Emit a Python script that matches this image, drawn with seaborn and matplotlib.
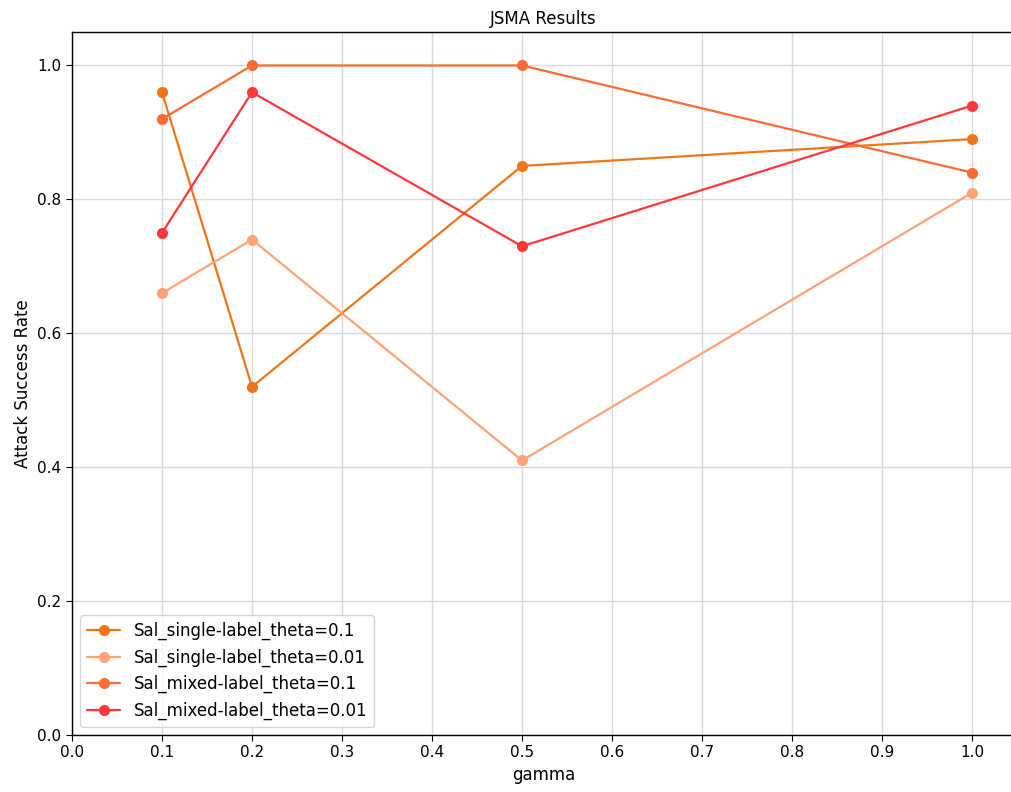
import matplotlib
matplotlib.use("Agg")
import matplotlib.pyplot as plt
import seaborn as sns
import pandas as pd

gamma = [0.1, 0.2, 0.5, 1.0]
single_theta_01 = [0.96, 0.52, 0.85, 0.89]
single_theta_001 = [0.66, 0.74, 0.41, 0.81]
mixed_theta_01 = [0.92, 1.00, 1.00, 0.84]
mixed_theta_001 = [0.75, 0.96, 0.73, 0.94]

series_names = [
    "Sal_single-label_theta=0.1",
    "Sal_single-label_theta=0.01",
    "Sal_mixed-label_theta=0.1",
    "Sal_mixed-label_theta=0.01",
]
series_values = [single_theta_01, single_theta_001, mixed_theta_01, mixed_theta_001]
colors = ["#f07518", "#ffa275", "#ff6a33", "#ff3838"]

rows = []
for name, vals in zip(series_names, series_values):
    for g, v in zip(gamma, vals):
        rows.append({"gamma": g, "rate": v, "series": name})
df = pd.DataFrame(rows)

sns.set_style("ticks")
plt.rcParams["font.family"] = ["DejaVu Sans"]
plt.rcParams["text.color"] = "black"
plt.rcParams["axes.labelcolor"] = "black"

fig = plt.figure(figsize=(10.12, 7.92), dpi=100)
ax = fig.add_axes([72 / 1012, 57 / 792, (1015 - 72) / 1012, (735 - 32) / 792])

for name, color in zip(series_names, colors):
    sub = df[df["series"] == name]
    sns.lineplot(data=sub, x="gamma", y="rate", ax=ax, color=color,
                 marker="o", markersize=8, markeredgewidth=0,
                 linewidth=1.6, label=name, sort=False)

ax.set_xlim(0, (1015 - 72) / 900)
ax.set_ylim(0, 1.05)
ax.set_xticks([i / 10 for i in range(11)])
ax.set_yticks([0.0, 0.2, 0.4, 0.6, 0.8, 1.0])
ax.grid(True, color="#d9d9d9", linewidth=1)
ax.set_axisbelow(True)
for s in ax.spines.values():
    s.set_color("black")
    s.set_linewidth(1.0)
ax.spines["right"].set_visible(False)
ax.tick_params(axis="both", labelsize=11, colors="black", length=4)
ax.set_xlabel("gamma", fontsize=12)
ax.set_ylabel("Attack Success Rate", fontsize=12)
ax.set_title("JSMA Results", fontsize=12)
ax.legend(loc="lower left", fontsize=12, frameon=True, framealpha=0.8,
          edgecolor="#cccccc", fancybox=True)

fig.savefig("out.png", dpi=100)
